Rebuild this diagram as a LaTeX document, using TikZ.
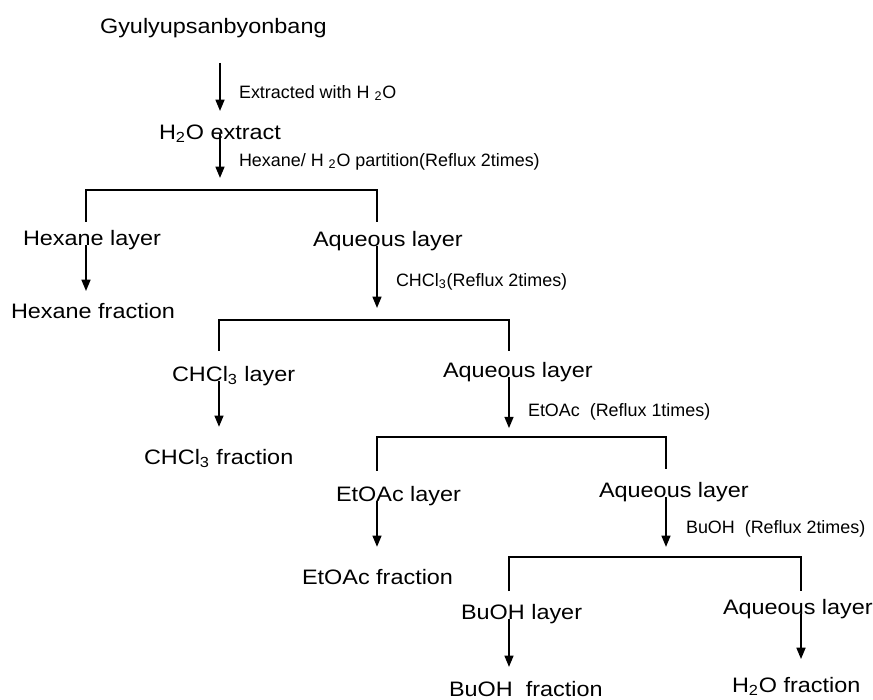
\documentclass[tikz,border=0pt]{standalone}
\usepackage{fontspec}
\setmainfont{Liberation Sans}[FakeStretch=1.12]
\newfontfamily\notefont{Liberation Sans}
\usetikzlibrary{arrows.meta}

\begin{document}
\begin{tikzpicture}[x=0.02cm, y=-0.02cm, line width=1.2pt,
    lbl/.style={inner sep=0pt, anchor=base west, text height=8.5pt, text depth=2.5pt,
        font=\fontsize{11.9}{14}\selectfont},
    note/.style={inner sep=0pt, anchor=base west, font=\notefont\fontsize{10.2}{12}\selectfont},
    arr/.style={-{Triangle[length=6.5pt, width=5pt]}}]
    \useasboundingbox (0,0) rectangle (873,700);

    % 各段标签
    \node[lbl] (title) at (99,33) {Gyulyupsanbyonbang};
    \node[lbl] (ext) at (158,139) {H\textsubscript{2}O extract};
    \node[lbl] (hexl) at (22,245) {Hexane layer};
    \node[lbl] (hexf) at (10,318) {Hexane fraction};
    \node[lbl] (aq1) at (312,246) {Aqueous layer};
    \node[lbl] (chl) at (171,381) {CHCl\textsubscript{3} layer};
    \node[lbl] (chf) at (143,464) {CHCl\textsubscript{3} fraction};
    \node[lbl] (aq2) at (442,377) {Aqueous layer};
    \node[lbl] (eal) at (335,501) {EtOAc layer};
    \node[lbl] (eaf) at (301,584) {EtOAc fraction};
    \node[lbl] (aq3) at (598,497) {Aqueous layer};
    \node[lbl] (bul) at (460,619) {BuOH layer};
    \node[lbl] (buf) at (448,696) {BuOH\ \ fraction};
    \node[lbl] (aq4) at (722,614) {Aqueous layer};
    \node[lbl] (wf) at (731,692) {H\textsubscript{2}O fraction};

    % 操作说明
    \node[note] (extnote) at (238,98) {Extracted with H \textsubscript{2}O};
    \node[note] (partnote) at (238,166) {Hexane/ H \textsubscript{2}O partition(Reflux 2times)};
    \node[note] (chnote) at (395,286) {CHCl\textsubscript{3}(Reflux 2times)};
    \node[note] (eanote) at (527,416) {EtOAc\ \ (Reflux 1times)};
    \node[note] (bunote) at (685,533) {BuOH\ \ (Reflux 2times)};

    % 分支点
    \coordinate (k0) at (220,0);
    \coordinate (b1l) at (86,190);
    \coordinate (b1r) at (377,190);
    \coordinate (b2l) at (219,320);
    \coordinate (b2r) at (509,320);
    \coordinate (b3l) at (377,437);
    \coordinate (b3r) at (666,437);
    \coordinate (b4l) at (509,557);
    \coordinate (b4r) at (801,557);

    % 分配线
    \draw[shorten <=4pt, shorten >=4.5pt] (hexl.north -| b1l) -- (b1l) -- (b1r) -- (aq1.north -| b1r);
    \draw[shorten <=8pt, shorten >=5.7pt] (chl.north -| b2l) -- (b2l) -- (b2r) -- (aq2.north -| b2r);
    \draw[shorten <=8pt, shorten >=6.8pt] (eal.north -| b3l) -- (b3l) -- (b3r) -- (aq3.north -| b3r);
    \draw[shorten <=6.8pt, shorten >=4pt] (bul.north -| b4l) -- (b4l) -- (b4r) -- (aq4.north -| b4r);

    % 箭头
    \draw[arr, shorten <=13.9pt, shorten >=6.8pt] (title.south -| k0) -- (ext.north -| k0);
    \draw[arr, shorten >=6.8pt] (ext.center -| k0) -- (k0 |- b1l);
    \draw[arr, shorten >=6.2pt] (hexl.base -| b1l) -- (hexf.north -| b1l);
    \draw[arr, shorten >=6.8pt] (aq1.base -| b1r) -- (b1r |- b2l);
    \draw[arr, shorten >=12pt] (chl.base -| b2l) -- (chf.north -| b2l);
    \draw[arr, shorten >=5pt] (aq2.base -| b2r) -- (b2r |- b3l);
    \draw[arr, shorten >=12pt] (eal.base -| b3l) -- (eaf.north -| b3l);
    \draw[arr, shorten >=5.7pt] (aq3.base -| b3r) -- (b3r |- b4l);
    \draw[arr, shorten >=7.4pt] (bul.base -| b4l) -- (buf.north -| b4l);
    \draw[arr, shorten >=9.6pt] (aq4.base -| b4r) -- (wf.north -| b4r);

\end{tikzpicture}
\end{document}
